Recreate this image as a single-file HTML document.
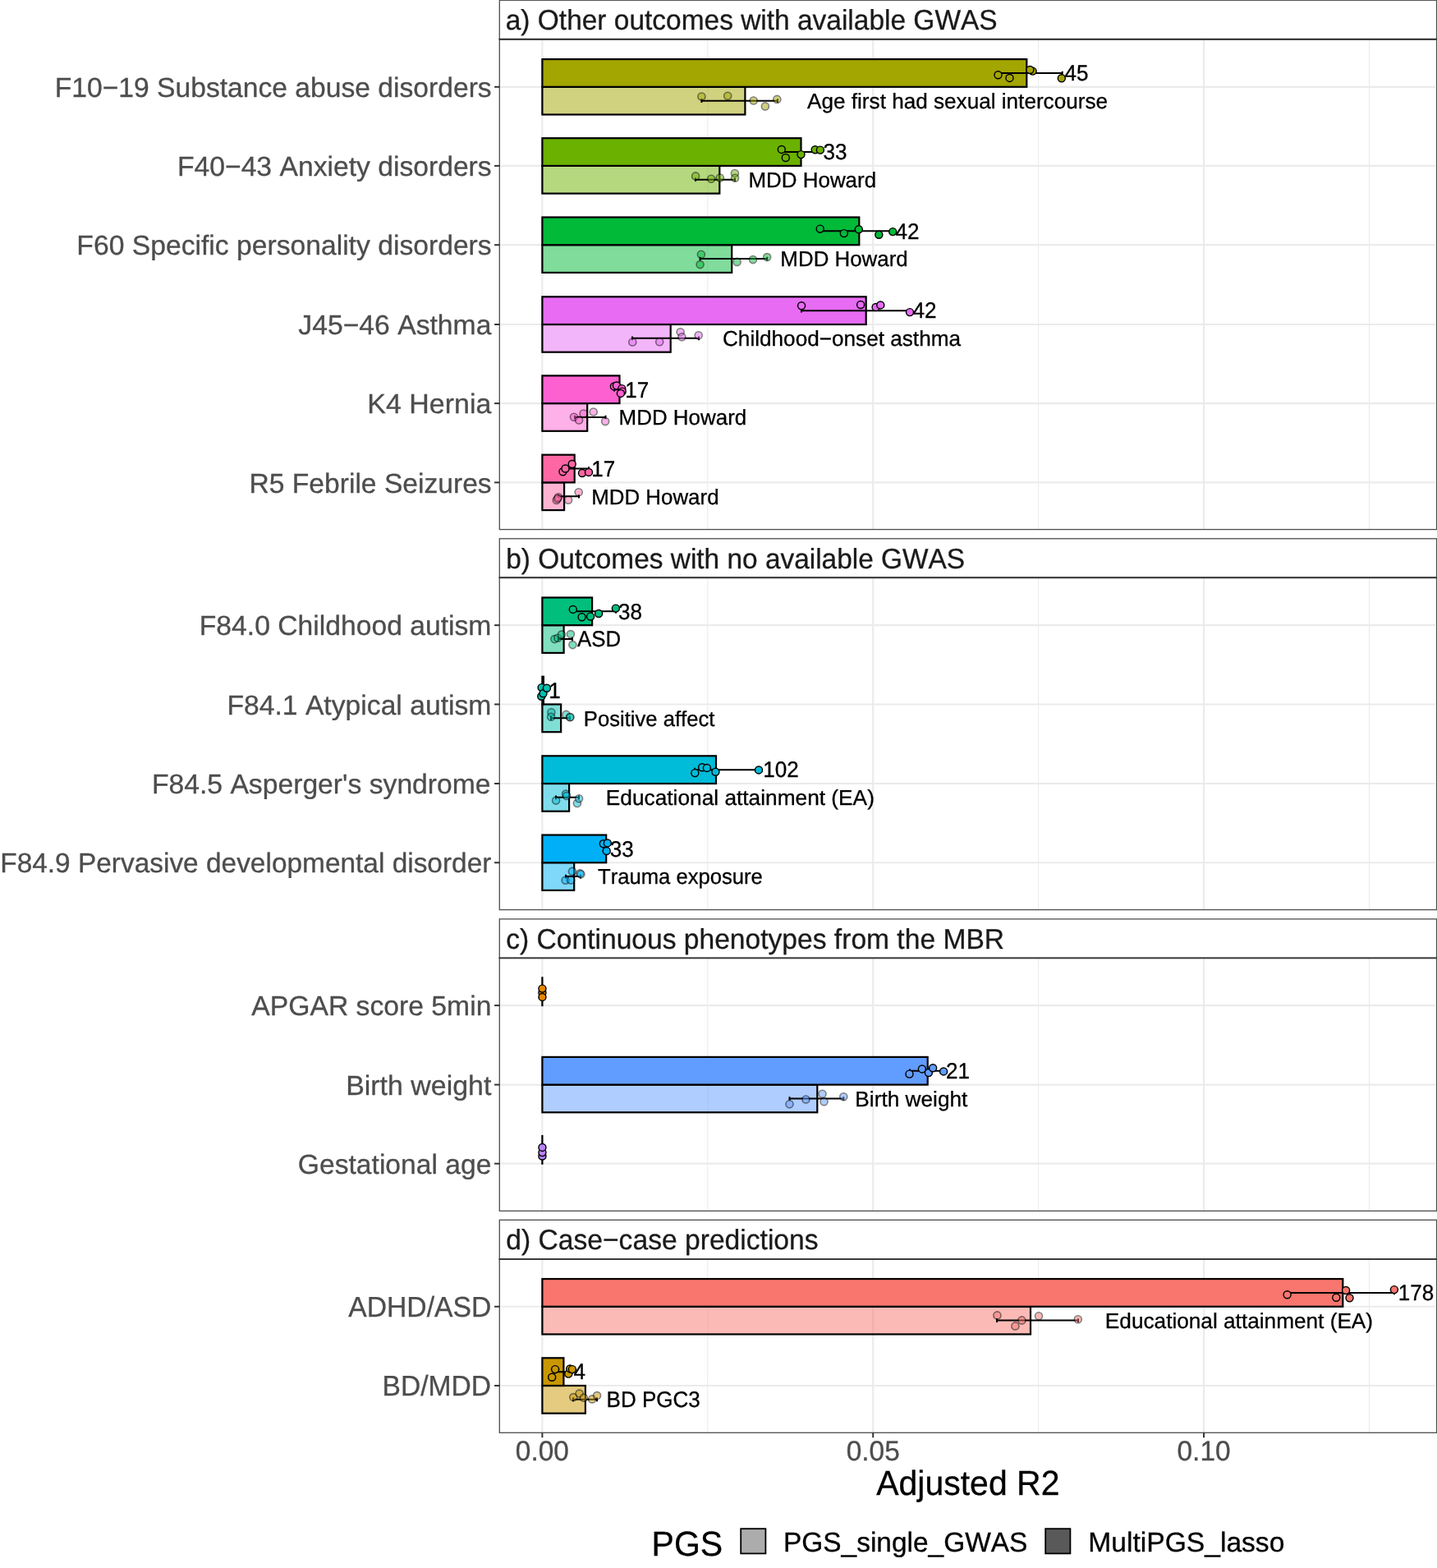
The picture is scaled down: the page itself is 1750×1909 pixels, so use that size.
<!DOCTYPE html>
<html lang="en">
<head>
<meta charset="utf-8">
<title>Adjusted R2 of MultiPGS and single PGS</title>
<style>
html,body{margin:0;padding:0;background:#fff;}
body{width:1750px;height:1909px;overflow:hidden;}
svg{display:block;}
text{font-family:"Liberation Sans", Arial, Helvetica, sans-serif;font-kerning:none;font-variant-ligatures:none;text-rendering:geometricPrecision;}
.ax{font-size:33.45px;fill:#4D4D4D;stroke:#4D4D4D;stroke-width:0.3px;}
.st{font-size:33.45px;fill:#1A1A1A;stroke:#1A1A1A;stroke-width:0.3px;}
.tt{font-size:41.00px;fill:#000;stroke:#000;stroke-width:0.3px;}
.lb{font-size:26.07px;fill:#000;stroke:#000;stroke-width:0.3px;}
.lg{font-size:33.45px;fill:#000;stroke:#000;stroke-width:0.3px;}
.pt{stroke:#000;stroke-width:1.45;}
.pl{stroke-width:1.6;opacity:0.5;}
.bar{stroke:#000;stroke-width:2.20;stroke-linejoin:miter;}
.eb{stroke:#000;stroke-width:2.00;fill:none;}
</style>
</head>
<body>
<svg width="1750" height="1909" viewBox="0 0 1750 1909">
<rect x="0" y="0" width="1750" height="1909" fill="#fff"/>
<g>
<line x1="861.81" y1="47.8" x2="861.81" y2="644.6" stroke="#EBEBEB" stroke-width="1.1"/>
<line x1="1264.63" y1="47.8" x2="1264.63" y2="644.6" stroke="#EBEBEB" stroke-width="1.1"/>
<line x1="1667.45" y1="47.8" x2="1667.45" y2="644.6" stroke="#EBEBEB" stroke-width="1.1"/>
<line x1="660.4" y1="47.8" x2="660.4" y2="644.6" stroke="#EBEBEB" stroke-width="2.2"/>
<line x1="1063.22" y1="47.8" x2="1063.22" y2="644.6" stroke="#EBEBEB" stroke-width="2.2"/>
<line x1="1466.04" y1="47.8" x2="1466.04" y2="644.6" stroke="#EBEBEB" stroke-width="2.2"/>
<line x1="608.3" y1="105.8" x2="1748" y2="105.8" stroke="#EBEBEB" stroke-width="2.2"/>
<line x1="608.3" y1="201.9" x2="1748" y2="201.9" stroke="#EBEBEB" stroke-width="2.2"/>
<line x1="608.3" y1="298.2" x2="1748" y2="298.2" stroke="#EBEBEB" stroke-width="2.2"/>
<line x1="608.3" y1="395" x2="1748" y2="395" stroke="#EBEBEB" stroke-width="2.2"/>
<line x1="608.3" y1="491.1" x2="1748" y2="491.1" stroke="#EBEBEB" stroke-width="2.2"/>
<line x1="608.3" y1="587.4" x2="1748" y2="587.4" stroke="#EBEBEB" stroke-width="2.2"/>
<rect class="bar" x="660.4" y="105.8" width="247" height="33.7" fill="#A3A500" fill-opacity="0.5"/>
<rect class="bar" x="660.4" y="72.1" width="589.9" height="33.7" fill="#A3A500"/>
<path class="eb" d="M1216 86.65V91.25M1216 88.95H1293.7M1293.7 86.65V91.25"/>
<path class="eb" d="M854.4 120.35V124.95M854.4 122.65H947M947 120.35V124.95"/>
<circle class="pt" cx="1215.5" cy="91.2" r="4.5" fill="#A3A500"/>
<circle class="pt" cx="1229.5" cy="94.9" r="4.5" fill="#A3A500"/>
<circle class="pt" cx="1257.6" cy="86.6" r="4.5" fill="#A3A500"/>
<circle class="pt" cx="1254.4" cy="85" r="4.5" fill="#A3A500"/>
<circle class="pt" cx="1292.8" cy="95.3" r="4.5" fill="#A3A500"/>
<circle class="pt pl" cx="854.4" cy="117.5" r="4.5" fill="#A3A500"/>
<circle class="pt pl" cx="886.2" cy="116.8" r="4.5" fill="#A3A500"/>
<circle class="pt pl" cx="917.7" cy="122.5" r="4.5" fill="#A3A500"/>
<circle class="pt pl" cx="931.9" cy="129.4" r="4.5" fill="#A3A500"/>
<circle class="pt pl" cx="946.3" cy="120.9" r="4.5" fill="#A3A500"/>
<text class="lb" transform="translate(1296.5 98.25) scale(1 1.04)">45</text>
<text class="lb" transform="translate(983.05 131.95) scale(1.0025 1.0)">Age first had sexual intercourse</text>
<rect class="bar" x="660.4" y="201.9" width="215.9" height="33.7" fill="#6BB100" fill-opacity="0.5"/>
<rect class="bar" x="660.4" y="168.2" width="315.1" height="33.7" fill="#6BB100"/>
<path class="eb" d="M952 182.75V187.35M952 185.05H999M999 182.75V187.35"/>
<path class="eb" d="M847 216.45V221.05M847 218.75H895M895 216.45V221.05"/>
<circle class="pt" cx="951.8" cy="181.9" r="4.5" fill="#6BB100"/>
<circle class="pt" cx="956.8" cy="192" r="4.5" fill="#6BB100"/>
<circle class="pt" cx="975.5" cy="188.1" r="4.5" fill="#6BB100"/>
<circle class="pt" cx="992.7" cy="182.2" r="4.5" fill="#6BB100"/>
<circle class="pt" cx="998.9" cy="182.6" r="4.5" fill="#6BB100"/>
<circle class="pt pl" cx="847.1" cy="214.4" r="4.5" fill="#6BB100"/>
<circle class="pt pl" cx="866.1" cy="217.8" r="4.5" fill="#6BB100"/>
<circle class="pt pl" cx="876.8" cy="216.5" r="4.5" fill="#6BB100"/>
<circle class="pt pl" cx="894.9" cy="211" r="4.5" fill="#6BB100"/>
<circle class="pt pl" cx="895.1" cy="216.7" r="4.5" fill="#6BB100"/>
<text class="lb" transform="translate(1002.6 194.35) scale(1 1.04)">33</text>
<text class="lb" transform="translate(911.46 228.05) scale(0.9951 1.0)">MDD Howard</text>
<rect class="bar" x="660.4" y="298.2" width="230.8" height="33.7" fill="#00BA38" fill-opacity="0.5"/>
<rect class="bar" x="660.4" y="264.5" width="385.9" height="33.7" fill="#00BA38"/>
<path class="eb" d="M998.7 279.05V283.65M998.7 281.35H1087M1087 279.05V283.65"/>
<path class="eb" d="M852.6 312.75V317.35M852.6 315.05H934.2M934.2 312.75V317.35"/>
<circle class="pt" cx="998.7" cy="278.6" r="4.5" fill="#00BA38"/>
<circle class="pt" cx="1027.8" cy="284.1" r="4.5" fill="#00BA38"/>
<circle class="pt" cx="1045.8" cy="279.3" r="4.5" fill="#00BA38"/>
<circle class="pt" cx="1070.3" cy="285.7" r="4.5" fill="#00BA38"/>
<circle class="pt" cx="1087.2" cy="282.1" r="4.5" fill="#00BA38"/>
<circle class="pt pl" cx="853.9" cy="309.7" r="4.5" fill="#00BA38"/>
<circle class="pt pl" cx="852.6" cy="322.1" r="4.5" fill="#00BA38"/>
<circle class="pt pl" cx="897.6" cy="318.9" r="4.5" fill="#00BA38"/>
<circle class="pt pl" cx="917" cy="316.1" r="4.5" fill="#00BA38"/>
<circle class="pt pl" cx="934.2" cy="313.1" r="4.5" fill="#00BA38"/>
<text class="lb" transform="translate(1090.5 290.65) scale(1 1.04)">42</text>
<text class="lb" transform="translate(950.36 324.35) scale(0.9935 1.0)">MDD Howard</text>
<rect class="bar" x="660.4" y="395" width="156.3" height="33.7" fill="#E76BF3" fill-opacity="0.5"/>
<rect class="bar" x="660.4" y="361.3" width="394.3" height="33.7" fill="#E76BF3"/>
<path class="eb" d="M976 375.85V380.45M976 378.15H1108M1108 375.85V380.45"/>
<path class="eb" d="M770 409.55V414.15M770 411.85H851M851 409.55V414.15"/>
<circle class="pt" cx="976.1" cy="372.3" r="4.5" fill="#E76BF3"/>
<circle class="pt" cx="1048.1" cy="371" r="4.5" fill="#E76BF3"/>
<circle class="pt" cx="1066.6" cy="373.9" r="4.5" fill="#E76BF3"/>
<circle class="pt" cx="1072.3" cy="371.4" r="4.5" fill="#E76BF3"/>
<circle class="pt" cx="1108" cy="380.1" r="4.5" fill="#E76BF3"/>
<circle class="pt pl" cx="770.3" cy="416.5" r="4.5" fill="#E76BF3"/>
<circle class="pt pl" cx="803.2" cy="416.2" r="4.5" fill="#E76BF3"/>
<circle class="pt pl" cx="828.6" cy="404.3" r="4.5" fill="#E76BF3"/>
<circle class="pt pl" cx="830.4" cy="410.3" r="4.5" fill="#E76BF3"/>
<circle class="pt pl" cx="850.7" cy="408.2" r="4.5" fill="#E76BF3"/>
<text class="lb" transform="translate(1111.4 387.45) scale(1 1.04)">42</text>
<text class="lb" transform="translate(879.95 421.15) scale(1.0035 1.0)">Childhood−onset asthma</text>
<rect class="bar" x="660.4" y="491.1" width="54.8" height="33.7" fill="#FD61D1" fill-opacity="0.5"/>
<rect class="bar" x="660.4" y="457.4" width="94.1" height="33.7" fill="#FD61D1"/>
<path class="eb" d="M748 471.95V476.55M748 474.25H758M758 471.95V476.55"/>
<path class="eb" d="M700 505.65V510.25M700 507.95H737.5M737.5 505.65V510.25"/>
<circle class="pt" cx="747.9" cy="470.4" r="4.5" fill="#FD61D1"/>
<circle class="pt" cx="750.9" cy="469.5" r="4.5" fill="#FD61D1"/>
<circle class="pt" cx="757.3" cy="473.1" r="4.5" fill="#FD61D1"/>
<circle class="pt" cx="757.7" cy="476.6" r="4.5" fill="#FD61D1"/>
<circle class="pt" cx="755.9" cy="478.9" r="4.5" fill="#FD61D1"/>
<circle class="pt pl" cx="699" cy="507.7" r="4.5" fill="#FD61D1"/>
<circle class="pt pl" cx="705.1" cy="511.5" r="4.5" fill="#FD61D1"/>
<circle class="pt pl" cx="710.6" cy="503.5" r="4.5" fill="#FD61D1"/>
<circle class="pt pl" cx="722.7" cy="501.5" r="4.5" fill="#FD61D1"/>
<circle class="pt pl" cx="737.1" cy="513.1" r="4.5" fill="#FD61D1"/>
<text class="lb" transform="translate(761.15 483.55) scale(1 1.04)">17</text>
<text class="lb" transform="translate(753.56 517.25) scale(0.9951 1.0)">MDD Howard</text>
<rect class="bar" x="660.4" y="587.4" width="26.7" height="33.7" fill="#FF67A4" fill-opacity="0.5"/>
<rect class="bar" x="660.4" y="553.7" width="39.3" height="33.7" fill="#FF67A4"/>
<path class="eb" d="M688 568.25V572.85M688 570.55H717M717 568.25V572.85"/>
<path class="eb" d="M680 601.95V606.55M680 604.25H705M705 601.95V606.55"/>
<circle class="pt" cx="685.5" cy="574.2" r="4.5" fill="#FF67A4"/>
<circle class="pt" cx="688.5" cy="570.5" r="4.5" fill="#FF67A4"/>
<circle class="pt" cx="696.7" cy="565" r="4.5" fill="#FF67A4"/>
<circle class="pt" cx="709" cy="576" r="4.5" fill="#FF67A4"/>
<circle class="pt" cx="717" cy="574.9" r="4.5" fill="#FF67A4"/>
<circle class="pt pl" cx="677.7" cy="608.9" r="4.5" fill="#FF67A4"/>
<circle class="pt pl" cx="680" cy="605.3" r="4.5" fill="#FF67A4"/>
<circle class="pt pl" cx="679.1" cy="606.9" r="4.5" fill="#FF67A4"/>
<circle class="pt pl" cx="692.1" cy="608.7" r="4.5" fill="#FF67A4"/>
<circle class="pt pl" cx="704.7" cy="599.3" r="4.5" fill="#FF67A4"/>
<text class="lb" transform="translate(720.25 579.85) scale(1 1.04)">17</text>
<text class="lb" transform="translate(720.16 613.55) scale(0.9935 1.0)">MDD Howard</text>
<rect x="608.3" y="47.8" width="1141.3" height="596.8" fill="none" stroke="#4D4D4D" stroke-width="1.3"/>
<rect x="608.3" y="0.3" width="1141.3" height="47.5" fill="#fff" stroke="#4D4D4D" stroke-width="1.3"/>
<line x1="607.7" y1="47.8" x2="1750" y2="47.8" stroke="#333333" stroke-width="1.9"/>
<text class="st" transform="translate(615.75 36.1) scale(1.0008 1.03)">a) Other outcomes with available GWAS</text>
<line x1="602.1" y1="105.8" x2="608.3" y2="105.8" stroke="#333333" stroke-width="2"/>
<text class="ax" transform="translate(598.66 117.9) scale(1.0057 1.0)" text-anchor="end">F10−19 Substance abuse disorders</text>
<line x1="602.1" y1="201.9" x2="608.3" y2="201.9" stroke="#333333" stroke-width="2"/>
<text class="ax" transform="translate(598.66 214) scale(1.0068 1.0)" text-anchor="end">F40−43 Anxiety disorders</text>
<line x1="602.1" y1="298.2" x2="608.3" y2="298.2" stroke="#333333" stroke-width="2"/>
<text class="ax" transform="translate(598.66 310.3) scale(1.007 1.0)" text-anchor="end">F60 Specific personality disorders</text>
<line x1="602.1" y1="395" x2="608.3" y2="395" stroke="#333333" stroke-width="2"/>
<text class="ax" transform="translate(598.4 407.1) scale(1.0077 1.0)" text-anchor="end">J45−46 Asthma</text>
<line x1="602.1" y1="491.1" x2="608.3" y2="491.1" stroke="#333333" stroke-width="2"/>
<text class="ax" transform="translate(598.4 503.2) scale(1.0158 1.0)" text-anchor="end">K4 Hernia</text>
<line x1="602.1" y1="587.4" x2="608.3" y2="587.4" stroke="#333333" stroke-width="2"/>
<text class="ax" transform="translate(598.66 599.5) scale(1.0052 1.0)" text-anchor="end">R5 Febrile Seizures</text>
</g>
<g>
<line x1="861.81" y1="703.3" x2="861.81" y2="1107.6" stroke="#EBEBEB" stroke-width="1.1"/>
<line x1="1264.63" y1="703.3" x2="1264.63" y2="1107.6" stroke="#EBEBEB" stroke-width="1.1"/>
<line x1="1667.45" y1="703.3" x2="1667.45" y2="1107.6" stroke="#EBEBEB" stroke-width="1.1"/>
<line x1="660.4" y1="703.3" x2="660.4" y2="1107.6" stroke="#EBEBEB" stroke-width="2.2"/>
<line x1="1063.22" y1="703.3" x2="1063.22" y2="1107.6" stroke="#EBEBEB" stroke-width="2.2"/>
<line x1="1466.04" y1="703.3" x2="1466.04" y2="1107.6" stroke="#EBEBEB" stroke-width="2.2"/>
<line x1="608.3" y1="761.2" x2="1748" y2="761.2" stroke="#EBEBEB" stroke-width="2.2"/>
<line x1="608.3" y1="857.5" x2="1748" y2="857.5" stroke="#EBEBEB" stroke-width="2.2"/>
<line x1="608.3" y1="954" x2="1748" y2="954" stroke="#EBEBEB" stroke-width="2.2"/>
<line x1="608.3" y1="1050.25" x2="1748" y2="1050.25" stroke="#EBEBEB" stroke-width="2.2"/>
<rect class="bar" x="660.4" y="761.2" width="26.2" height="33.7" fill="#00BF7D" fill-opacity="0.5"/>
<rect class="bar" x="660.4" y="727.5" width="60.7" height="33.7" fill="#00BF7D"/>
<path class="eb" d="M698 742.05V746.65M698 744.35H750M750 742.05V746.65"/>
<path class="eb" d="M680 775.75V780.35M680 778.05H697M697 775.75V780.35"/>
<circle class="pt" cx="697.8" cy="741.9" r="4.5" fill="#00BF7D"/>
<circle class="pt" cx="708.6" cy="751.3" r="4.5" fill="#00BF7D"/>
<circle class="pt" cx="719.1" cy="750.6" r="4.5" fill="#00BF7D"/>
<circle class="pt" cx="729.1" cy="747" r="4.5" fill="#00BF7D"/>
<circle class="pt" cx="749.9" cy="740.6" r="4.5" fill="#00BF7D"/>
<circle class="pt pl" cx="675.4" cy="778.1" r="4.5" fill="#00BF7D"/>
<circle class="pt pl" cx="679.3" cy="776.7" r="4.5" fill="#00BF7D"/>
<circle class="pt pl" cx="683.9" cy="772.6" r="4.5" fill="#00BF7D"/>
<circle class="pt pl" cx="694.9" cy="772.1" r="4.5" fill="#00BF7D"/>
<circle class="pt pl" cx="697.4" cy="785.1" r="4.5" fill="#00BF7D"/>
<text class="lb" transform="translate(753.1 753.65) scale(1 1.04)">38</text>
<text class="lb" transform="translate(703 787.35) scale(0.9914 1.04)">ASD</text>
<rect class="bar" x="660.4" y="857.5" width="22.75" height="33.7" fill="#00C0AF" fill-opacity="0.5"/>
<rect class="bar" x="660.4" y="823.8" width="1.5" height="33.7" fill="#00C0AF"/>
<path class="eb" d="M659.5 838.35V842.95M659.5 840.65H665M665 838.35V842.95"/>
<path class="eb" d="M671 872.05V876.65M671 874.35H694M694 872.05V876.65"/>
<circle class="pt" cx="659.6" cy="837.1" r="4.5" fill="#00C0AF"/>
<circle class="pt" cx="659.3" cy="847.7" r="4.5" fill="#00C0AF"/>
<circle class="pt" cx="661.5" cy="844.2" r="4.5" fill="#00C0AF"/>
<circle class="pt" cx="665.9" cy="837.8" r="4.5" fill="#00C0AF"/>
<circle class="pt pl" cx="671.4" cy="867.3" r="4.5" fill="#00C0AF"/>
<circle class="pt pl" cx="671.1" cy="872.7" r="4.5" fill="#00C0AF"/>
<circle class="pt pl" cx="689.5" cy="869.9" r="4.5" fill="#00C0AF"/>
<circle class="pt pl" cx="694" cy="873" r="4.5" fill="#00C0AF"/>
<circle class="pt pl" cx="694.5" cy="873.2" r="4.5" fill="#00C0AF"/>
<text class="lb" transform="translate(668.15 849.95) scale(1 1.04)">1</text>
<text class="lb" transform="translate(710.78 883.65) scale(0.9838 1.0)">Positive affect</text>
<rect class="bar" x="660.4" y="954" width="32.7" height="33.7" fill="#00BCD8" fill-opacity="0.5"/>
<rect class="bar" x="660.4" y="920.3" width="211.6" height="33.7" fill="#00BCD8"/>
<path class="eb" d="M846 934.85V939.45M846 937.15H924M924 934.85V939.45"/>
<path class="eb" d="M677 968.55V973.15M677 970.85H705M705 968.55V973.15"/>
<circle class="pt" cx="846.3" cy="941.1" r="4.5" fill="#00BCD8"/>
<circle class="pt" cx="855.1" cy="934.3" r="4.5" fill="#00BCD8"/>
<circle class="pt" cx="860.9" cy="934.9" r="4.5" fill="#00BCD8"/>
<circle class="pt" cx="871.4" cy="939.7" r="4.5" fill="#00BCD8"/>
<circle class="pt" cx="924" cy="937.4" r="4.5" fill="#00BCD8"/>
<circle class="pt pl" cx="677.1" cy="974.6" r="4.5" fill="#00BCD8"/>
<circle class="pt pl" cx="689.1" cy="966.6" r="4.5" fill="#00BCD8"/>
<circle class="pt pl" cx="702.9" cy="978" r="4.5" fill="#00BCD8"/>
<circle class="pt pl" cx="705.1" cy="972.3" r="4.5" fill="#00BCD8"/>
<circle class="pt pl" cx="690" cy="969" r="4.5" fill="#00BCD8"/>
<text class="lb" transform="translate(929.25 946.45) scale(1 1.04)">102</text>
<text class="lb" transform="translate(737.84 980.15) scale(1.0078 1.0)">Educational attainment (EA)</text>
<rect class="bar" x="660.4" y="1050.25" width="38.8" height="33.7" fill="#00B0F6" fill-opacity="0.5"/>
<rect class="bar" x="660.4" y="1016.55" width="77.8" height="33.7" fill="#00B0F6"/>
<path class="eb" d="M735.5 1031.1V1035.7M735.5 1033.4H740M740 1031.1V1035.7"/>
<path class="eb" d="M689 1064.8V1069.4M689 1067.1H707M707 1064.8V1069.4"/>
<circle class="pt" cx="734.8" cy="1027.3" r="4.5" fill="#00B0F6"/>
<circle class="pt" cx="739.8" cy="1026.4" r="4.5" fill="#00B0F6"/>
<circle class="pt" cx="738.7" cy="1036" r="4.5" fill="#00B0F6"/>
<circle class="pt pl" cx="688.6" cy="1071.7" r="4.5" fill="#00B0F6"/>
<circle class="pt pl" cx="695.1" cy="1071.4" r="4.5" fill="#00B0F6"/>
<circle class="pt pl" cx="696.9" cy="1060.9" r="4.5" fill="#00B0F6"/>
<circle class="pt pl" cx="706.2" cy="1063.4" r="4.5" fill="#00B0F6"/>
<circle class="pt pl" cx="707.4" cy="1064.3" r="4.5" fill="#00B0F6"/>
<text class="lb" transform="translate(742.75 1042.7) scale(1 1.04)">33</text>
<text class="lb" transform="translate(728.06 1076.4) scale(0.983 1.0)">Trauma exposure</text>
<rect x="608.3" y="703.3" width="1141.3" height="404.3" fill="none" stroke="#4D4D4D" stroke-width="1.3"/>
<rect x="608.3" y="655.8" width="1141.3" height="47.5" fill="#fff" stroke="#4D4D4D" stroke-width="1.3"/>
<line x1="607.7" y1="703.3" x2="1750" y2="703.3" stroke="#333333" stroke-width="1.9"/>
<text class="st" transform="translate(616.25 692.05) scale(0.9991 1.03)">b) Outcomes with no available GWAS</text>
<line x1="602.1" y1="761.2" x2="608.3" y2="761.2" stroke="#333333" stroke-width="2"/>
<text class="ax" transform="translate(598.41 773.3) scale(1.007 1.0)" text-anchor="end">F84.0 Childhood autism</text>
<line x1="602.1" y1="857.5" x2="608.3" y2="857.5" stroke="#333333" stroke-width="2"/>
<text class="ax" transform="translate(598.41 869.6) scale(1.0073 1.0)" text-anchor="end">F84.1 Atypical autism</text>
<line x1="602.1" y1="954" x2="608.3" y2="954" stroke="#333333" stroke-width="2"/>
<text class="ax" transform="translate(597.61 966.1) scale(1.0074 1.0)" text-anchor="end">F84.5 Asperger&#39;s syndrome</text>
<line x1="602.1" y1="1050.25" x2="608.3" y2="1050.25" stroke="#333333" stroke-width="2"/>
<text class="ax" transform="translate(598.4 1062.35) scale(0.9995 1.0)" text-anchor="end">F84.9 Pervasive developmental disorder</text>
</g>
<g>
<line x1="861.81" y1="1166.4" x2="861.81" y2="1474.3" stroke="#EBEBEB" stroke-width="1.1"/>
<line x1="1264.63" y1="1166.4" x2="1264.63" y2="1474.3" stroke="#EBEBEB" stroke-width="1.1"/>
<line x1="1667.45" y1="1166.4" x2="1667.45" y2="1474.3" stroke="#EBEBEB" stroke-width="1.1"/>
<line x1="660.4" y1="1166.4" x2="660.4" y2="1474.3" stroke="#EBEBEB" stroke-width="2.2"/>
<line x1="1063.22" y1="1166.4" x2="1063.22" y2="1474.3" stroke="#EBEBEB" stroke-width="2.2"/>
<line x1="1466.04" y1="1166.4" x2="1466.04" y2="1474.3" stroke="#EBEBEB" stroke-width="2.2"/>
<line x1="608.3" y1="1224.1" x2="1748" y2="1224.1" stroke="#EBEBEB" stroke-width="2.2"/>
<line x1="608.3" y1="1320.6" x2="1748" y2="1320.6" stroke="#EBEBEB" stroke-width="2.2"/>
<line x1="608.3" y1="1416.7" x2="1748" y2="1416.7" stroke="#EBEBEB" stroke-width="2.2"/>
<rect class="bar" x="660.4" y="1190.4" width="0.01" height="33.7" fill="#E58700"/>
<circle class="pt" cx="660.45" cy="1208.5" r="4.5" fill="#E58700"/>
<circle class="pt" cx="660.45" cy="1213.9" r="4.5" fill="#E58700"/>
<circle class="pt" cx="660.45" cy="1203.6" r="4.5" fill="#E58700"/>
<rect class="bar" x="660.4" y="1320.6" width="334.9" height="33.7" fill="#619CFF" fill-opacity="0.5"/>
<rect class="bar" x="660.4" y="1286.9" width="469.3" height="33.7" fill="#619CFF"/>
<path class="eb" d="M1108 1301.45V1306.05M1108 1303.75H1149M1149 1301.45V1306.05"/>
<path class="eb" d="M961.5 1335.15V1339.75M961.5 1337.45H1027.3M1027.3 1335.15V1339.75"/>
<circle class="pt" cx="1107.5" cy="1307.6" r="4.5" fill="#619CFF"/>
<circle class="pt" cx="1122.9" cy="1301.4" r="4.5" fill="#619CFF"/>
<circle class="pt" cx="1130.9" cy="1306" r="4.5" fill="#619CFF"/>
<circle class="pt" cx="1136.1" cy="1300.3" r="4.5" fill="#619CFF"/>
<circle class="pt" cx="1149.1" cy="1304.4" r="4.5" fill="#619CFF"/>
<circle class="pt pl" cx="961.5" cy="1344.2" r="4.5" fill="#619CFF"/>
<circle class="pt pl" cx="981.4" cy="1338.5" r="4.5" fill="#619CFF"/>
<circle class="pt pl" cx="1001.5" cy="1331.8" r="4.5" fill="#619CFF"/>
<circle class="pt pl" cx="1003.5" cy="1341.2" r="4.5" fill="#619CFF"/>
<circle class="pt pl" cx="1027.3" cy="1335.3" r="4.5" fill="#619CFF"/>
<text class="lb" transform="translate(1152 1313.05) scale(1 1.04)">21</text>
<text class="lb" transform="translate(1041.34 1346.75) scale(1.006 1.0)">Birth weight</text>
<rect class="bar" x="660.4" y="1383" width="0.01" height="33.7" fill="#B983FF"/>
<circle class="pt" cx="660.45" cy="1407.5" r="4.5" fill="#B983FF"/>
<circle class="pt" cx="660.45" cy="1403.1" r="4.5" fill="#B983FF"/>
<circle class="pt" cx="660.45" cy="1396.9" r="4.5" fill="#B983FF"/>
<rect x="608.3" y="1166.4" width="1141.3" height="307.9" fill="none" stroke="#4D4D4D" stroke-width="1.3"/>
<rect x="608.3" y="1118.9" width="1141.3" height="47.5" fill="#fff" stroke="#4D4D4D" stroke-width="1.3"/>
<line x1="607.7" y1="1166.4" x2="1750" y2="1166.4" stroke="#333333" stroke-width="1.9"/>
<text class="st" transform="translate(616.24 1155.15) scale(1.0046 1.03)">c) Continuous phenotypes from the MBR</text>
<line x1="602.1" y1="1224.1" x2="608.3" y2="1224.1" stroke="#333333" stroke-width="2"/>
<text class="ax" transform="translate(598.42 1236.2) scale(1.0078 1.0)" text-anchor="end">APGAR score 5min</text>
<line x1="602.1" y1="1320.6" x2="608.3" y2="1320.6" stroke="#333333" stroke-width="2"/>
<text class="ax" transform="translate(598.4 1332.7) scale(1.0146 1.0)" text-anchor="end">Birth weight</text>
<line x1="602.1" y1="1416.7" x2="608.3" y2="1416.7" stroke="#333333" stroke-width="2"/>
<text class="ax" transform="translate(598.41 1428.8) scale(1.0058 1.0)" text-anchor="end">Gestational age</text>
</g>
<g>
<line x1="861.81" y1="1532.85" x2="861.81" y2="1744.3" stroke="#EBEBEB" stroke-width="1.1"/>
<line x1="1264.63" y1="1532.85" x2="1264.63" y2="1744.3" stroke="#EBEBEB" stroke-width="1.1"/>
<line x1="1667.45" y1="1532.85" x2="1667.45" y2="1744.3" stroke="#EBEBEB" stroke-width="1.1"/>
<line x1="660.4" y1="1532.85" x2="660.4" y2="1744.3" stroke="#EBEBEB" stroke-width="2.2"/>
<line x1="1063.22" y1="1532.85" x2="1063.22" y2="1744.3" stroke="#EBEBEB" stroke-width="2.2"/>
<line x1="1466.04" y1="1532.85" x2="1466.04" y2="1744.3" stroke="#EBEBEB" stroke-width="2.2"/>
<line x1="608.3" y1="1590.75" x2="1748" y2="1590.75" stroke="#EBEBEB" stroke-width="2.2"/>
<line x1="608.3" y1="1687" x2="1748" y2="1687" stroke="#EBEBEB" stroke-width="2.2"/>
<rect class="bar" x="660.4" y="1590.75" width="594.6" height="33.7" fill="#F8766D" fill-opacity="0.5"/>
<rect class="bar" x="660.4" y="1557.05" width="974.9" height="33.7" fill="#F8766D"/>
<path class="eb" d="M1568 1571.6V1576.2M1568 1573.9H1698M1698 1571.6V1576.2"/>
<path class="eb" d="M1214 1605.3V1609.9M1214 1607.6H1313M1313 1605.3V1609.9"/>
<circle class="pt" cx="1567.6" cy="1576.2" r="4.5" fill="#F8766D"/>
<circle class="pt" cx="1627.3" cy="1579.7" r="4.5" fill="#F8766D"/>
<circle class="pt" cx="1639.1" cy="1571" r="4.5" fill="#F8766D"/>
<circle class="pt" cx="1643.5" cy="1580.3" r="4.5" fill="#F8766D"/>
<circle class="pt" cx="1697.9" cy="1570.1" r="4.5" fill="#F8766D"/>
<circle class="pt pl" cx="1214.4" cy="1601.4" r="4.5" fill="#F8766D"/>
<circle class="pt pl" cx="1236.4" cy="1614.4" r="4.5" fill="#F8766D"/>
<circle class="pt pl" cx="1244.4" cy="1607.4" r="4.5" fill="#F8766D"/>
<circle class="pt pl" cx="1265" cy="1602.2" r="4.5" fill="#F8766D"/>
<circle class="pt pl" cx="1312.8" cy="1606.2" r="4.5" fill="#F8766D"/>
<text class="lb" transform="translate(1702.75 1583.2) scale(1 1.04)">178</text>
<text class="lb" transform="translate(1345.84 1616.9) scale(1.0053 1.0)">Educational attainment (EA)</text>
<rect class="bar" x="660.4" y="1687" width="52.5" height="33.7" fill="#C99800" fill-opacity="0.5"/>
<rect class="bar" x="660.4" y="1653.3" width="26" height="33.7" fill="#C99800"/>
<path class="eb" d="M676 1667.85V1672.45M676 1670.15H697M697 1667.85V1672.45"/>
<path class="eb" d="M698 1701.55V1706.15M698 1703.85H727M727 1701.55V1706.15"/>
<circle class="pt" cx="676.1" cy="1667.1" r="4.5" fill="#C99800"/>
<circle class="pt" cx="672.2" cy="1676.7" r="4.5" fill="#C99800"/>
<circle class="pt" cx="692.3" cy="1672.6" r="4.5" fill="#C99800"/>
<circle class="pt" cx="694.2" cy="1666.4" r="4.5" fill="#C99800"/>
<circle class="pt" cx="696.9" cy="1667.1" r="4.5" fill="#C99800"/>
<circle class="pt pl" cx="698.3" cy="1701.1" r="4.5" fill="#C99800"/>
<circle class="pt pl" cx="705.6" cy="1696.6" r="4.5" fill="#C99800"/>
<circle class="pt pl" cx="710.9" cy="1701.8" r="4.5" fill="#C99800"/>
<circle class="pt pl" cx="721.1" cy="1703.4" r="4.5" fill="#C99800"/>
<circle class="pt pl" cx="727.1" cy="1699.1" r="4.5" fill="#C99800"/>
<text class="lb" transform="translate(698.5 1679.45) scale(1 1.04)">4</text>
<text class="lb" transform="translate(738.55 1713.15) scale(0.9982 1.04)">BD PGC3</text>
<rect x="608.3" y="1532.85" width="1141.3" height="211.45" fill="none" stroke="#4D4D4D" stroke-width="1.3"/>
<rect x="608.3" y="1485.3" width="1141.3" height="47.55" fill="#fff" stroke="#4D4D4D" stroke-width="1.3"/>
<line x1="607.7" y1="1532.85" x2="1750" y2="1532.85" stroke="#333333" stroke-width="1.9"/>
<text class="st" transform="translate(616.24 1520.6) scale(1.0056 1.03)">d) Case−case predictions</text>
<line x1="602.1" y1="1590.75" x2="608.3" y2="1590.75" stroke="#333333" stroke-width="2"/>
<text class="ax" transform="translate(598.31 1602.85) scale(1.0079 1.04)" text-anchor="end">ADHD/ASD</text>
<line x1="602.1" y1="1687" x2="608.3" y2="1687" stroke="#333333" stroke-width="2"/>
<text class="ax" transform="translate(598.11 1699.1) scale(1.0055 1.04)" text-anchor="end">BD/MDD</text>
</g>
<line x1="660.4" y1="1744.3" x2="660.4" y2="1750.3" stroke="#333333" stroke-width="2"/>
<text class="ax" transform="translate(660.4 1778.3) scale(1 1.02)" text-anchor="middle">0.00</text>
<line x1="1063.22" y1="1744.3" x2="1063.22" y2="1750.3" stroke="#333333" stroke-width="2"/>
<text class="ax" transform="translate(1063.22 1778.3) scale(1 1.02)" text-anchor="middle">0.05</text>
<line x1="1466.04" y1="1744.3" x2="1466.04" y2="1750.3" stroke="#333333" stroke-width="2"/>
<text class="ax" transform="translate(1466.04 1778.3) scale(1 1.02)" text-anchor="middle">0.10</text>
<text class="tt" transform="translate(1178.8 1820.3) scale(1 1.03)" text-anchor="middle">Adjusted R2</text>
<text class="tt" transform="translate(793.6 1893.6) scale(1 1.03)">PGS</text>
<rect x="902.2" y="1861.2" width="30.2" height="30.2" fill="#595959" fill-opacity="0.5" stroke="#000" stroke-width="1.8"/>
<text class="lg" transform="translate(954 1888.6) scale(1 1.0)">PGS_single_GWAS</text>
<rect x="1273.2" y="1861.2" width="30.2" height="30.2" fill="#595959" stroke="#000" stroke-width="1.8"/>
<text class="lg" transform="translate(1325.29 1888.6) scale(1.0051 1.0)">MultiPGS_lasso</text>
</svg>
</body>
</html>
